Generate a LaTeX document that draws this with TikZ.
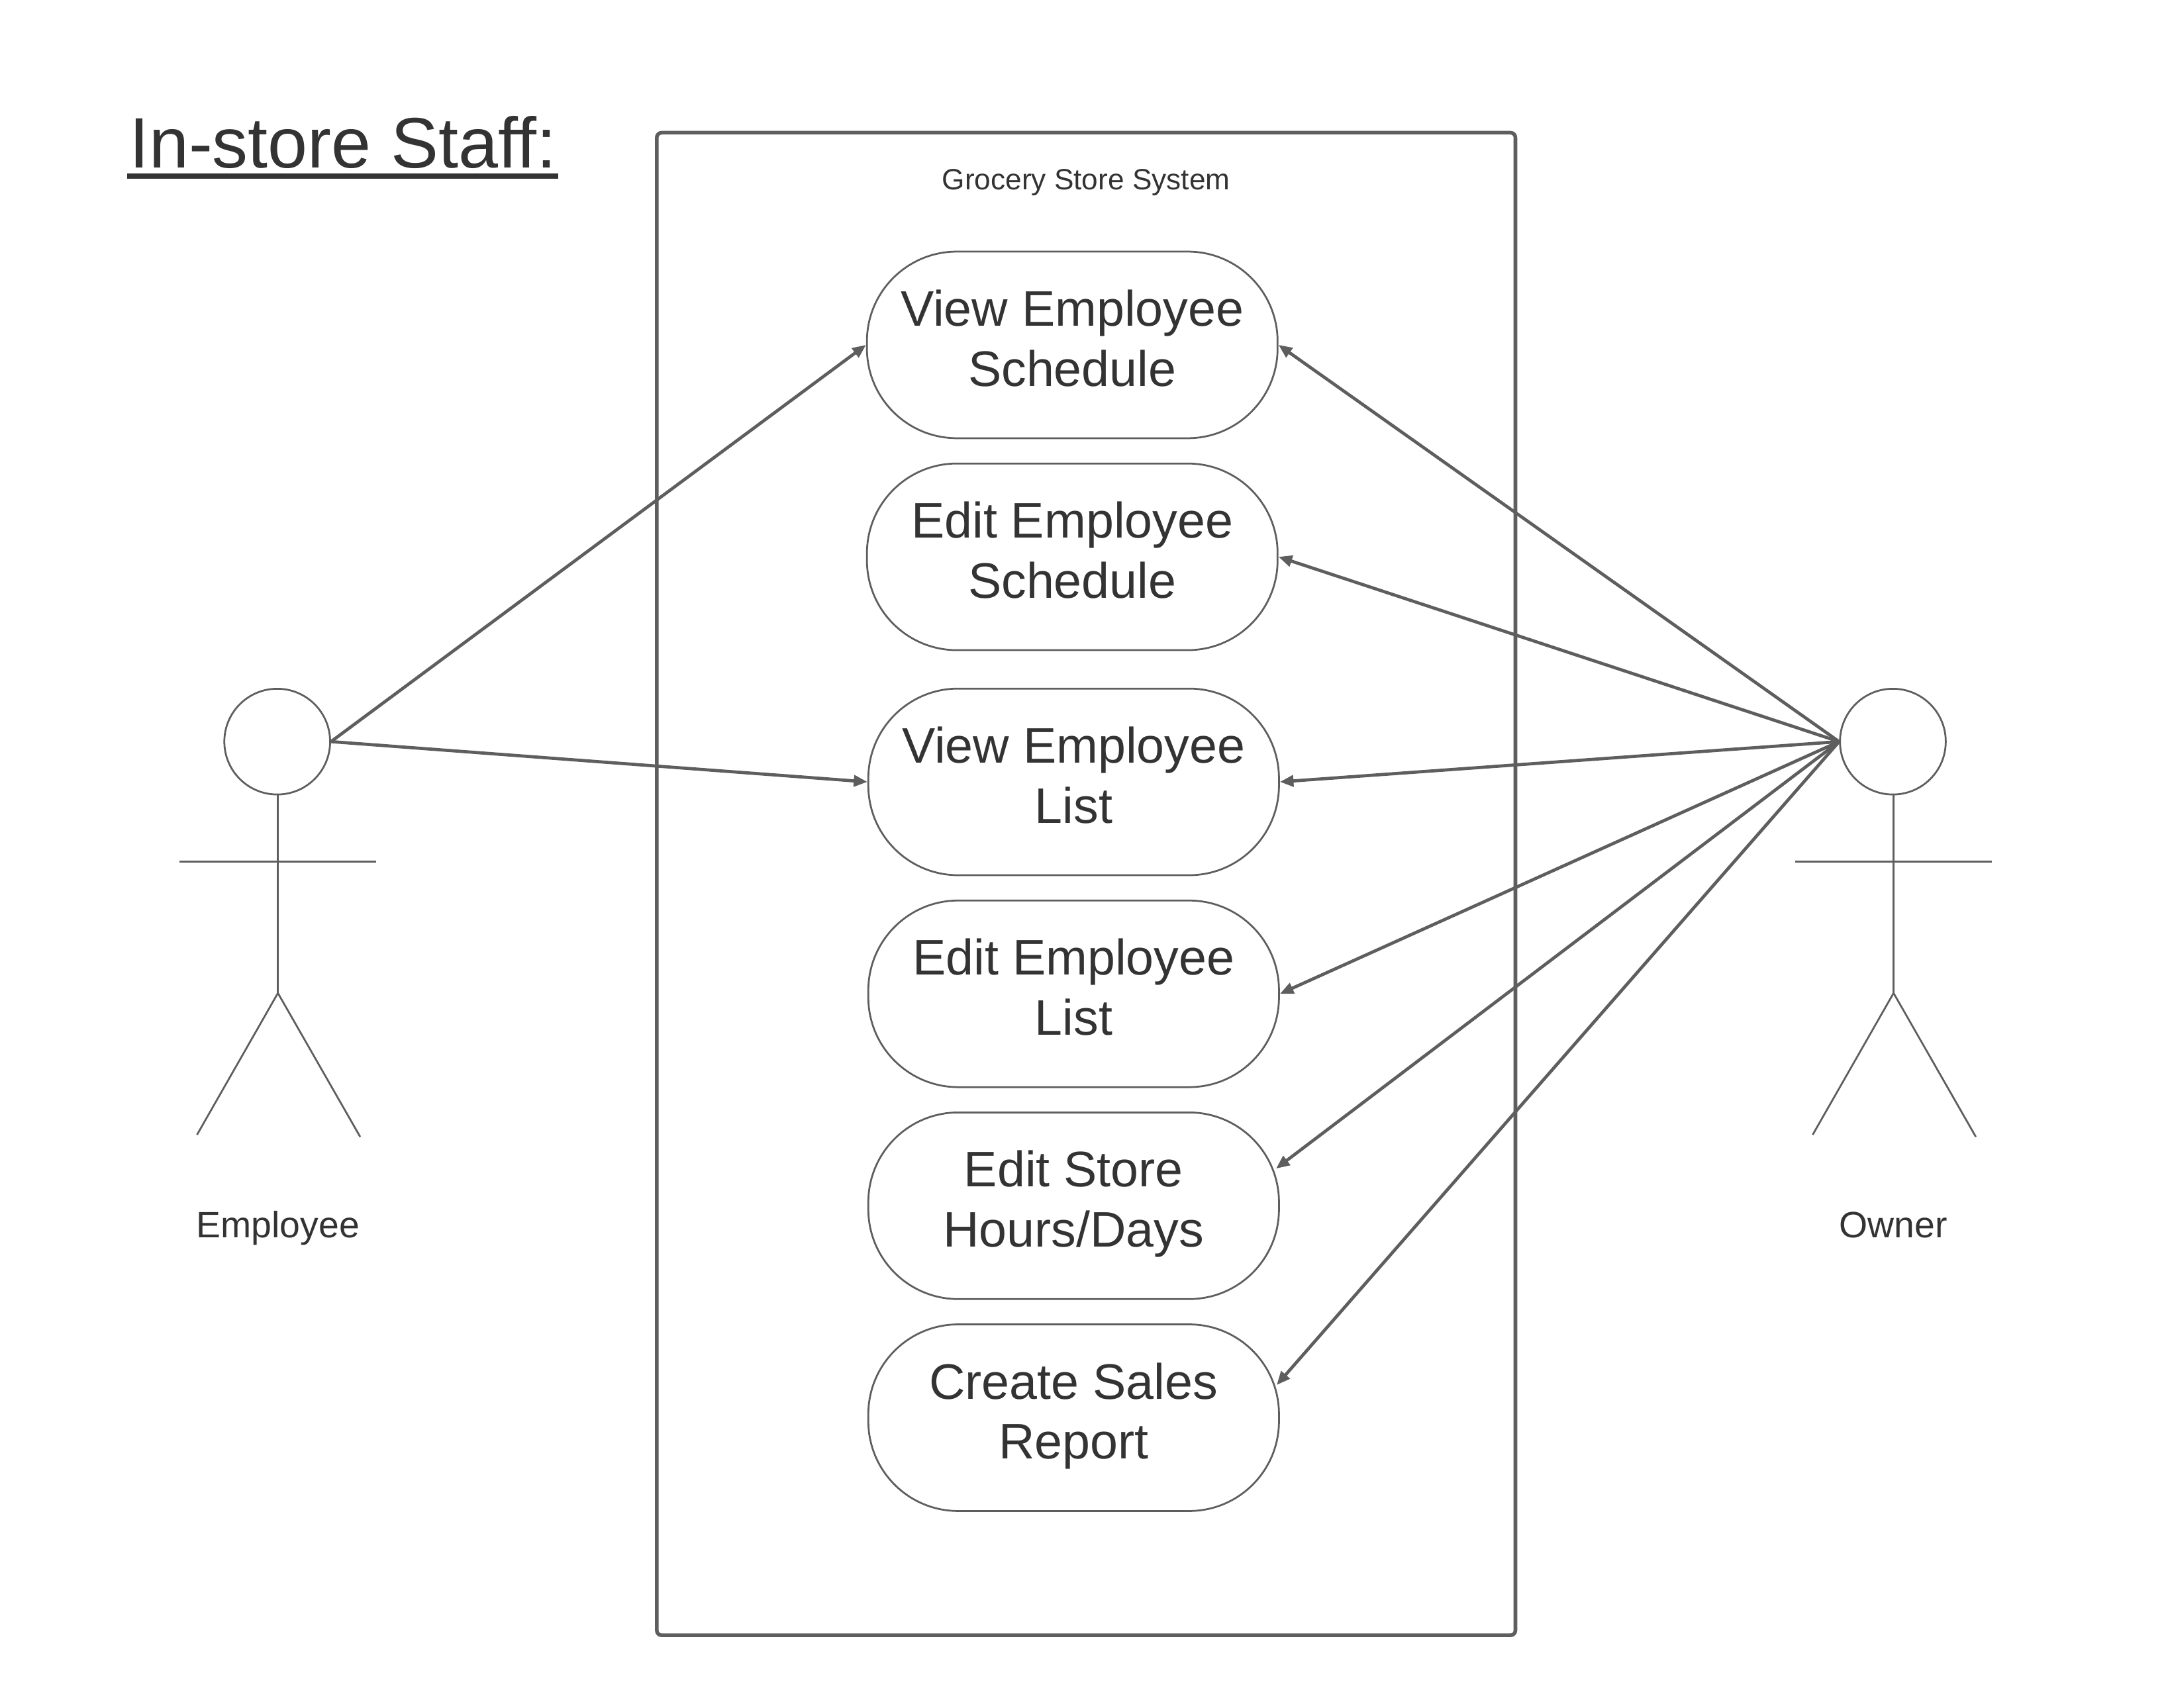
\documentclass[tikz,border=0pt]{standalone}
\usepackage{fontspec}
\setmainfont{Liberation Sans}
\usepackage{xcolor}
\usetikzlibrary{positioning, arrows.meta}
\definecolor{linegray}{HTML}{5E5E5E}
\definecolor{textgray}{HTML}{333333}

\begin{document}
\begin{tikzpicture}[
    >={Triangle[length=5.6pt, width=4.6pt]},
    usecase/.style={rectangle, draw=linegray, line width=0.75pt, rounded corners=1.3cm, minimum width=5.94cm, minimum height=2.7cm, inner sep=0pt, align=center, text=textgray, text height=34pt, text depth=0pt, font=\fontsize{20.55}{24.75}\selectfont},
    systembox/.style={rectangle, draw=linegray, line width=1.5pt, rounded corners=2pt, minimum width=12.42cm, minimum height=21.74cm, inner sep=0pt},
    actorhead/.style={circle, draw=linegray, line width=0.75pt, minimum size=1.53cm, inner sep=0pt},
    actorlimb/.style={draw=linegray, line width=0.75pt},
    actorname/.style={text=textgray, anchor=base, font=\fontsize{15.1}{18}\selectfont},
    assoc/.style={->, draw=linegray, fill=linegray, line width=1.3pt},
    cornertip/.style={shorten >=-2pt},
]
\useasboundingbox (0, 0) rectangle (31.36, -24.712);

% Title
\node[text=textgray, font=\fontsize{29.4}{34}\selectfont, inner sep=0pt] (title) at (4.96, -2.06) {In-store Staff:};
\draw[textgray, line width=2.2pt] ([xshift=-0.02cm, yshift=-3.4pt]title.base west) -- ([xshift=0.02cm, yshift=-3.4pt]title.base east);

% System boundary
\node[systembox] (system) at (15.71, -12.79) {};
\node[text=textgray, font=\fontsize{12.05}{14}\selectfont] (systemname) at (15.71, -2.64) {Grocery Store System};

% Use cases
\node[usecase] (s1) at (15.51, -4.99) {View Employee\\Schedule};
\node[usecase, below=0.34cm of s1] (s2) {Edit Employee\\Schedule};
\node[usecase, below=0.53cm of s2, xshift=0.02cm] (s3) {View Employee\\List};
\node[usecase, below=0.34cm of s3] (s4) {Edit Employee\\List};
\node[usecase, below=0.34cm of s4] (s5) {Edit Store\\Hours/Days};
\node[usecase, below=0.34cm of s5] (s6) {Create Sales\\Report};

% Actors
\node[actorhead] (emp) at (4.01, -10.73) {};
\node[actorhead] (own) at (27.38, -10.73) {};
\node[actorname] (empname) at (4.02, -17.91) {Employee};
\node[actorname] (ownname) at (27.385, -17.91) {Owner};

\foreach \who in {emp, own} {
    \draw[actorlimb] ([xshift=0.01cm]\who.south) -- ++(0, -2.86) coordinate (\who hip);
    \draw[actorlimb] ([shift={(-1.41, -0.96)}]\who.south) -- ([shift={(1.43, -0.96)}]\who.south);
    \draw[actorlimb] (\who hip) -- ++(-1.17, -2.05);
    \draw[actorlimb] (\who hip) -- ++(1.19, -2.08);
}

% Arrows
\foreach \b in {s1, s3} {
    \draw[assoc] (emp.east) -- (\b.west);
}
\foreach \b in {s1, s2, s3, s4} {
    \draw[assoc] (own.west) -- (\b.east);
}
\draw[assoc, cornertip] (own.west) -- (s5.11.6);
\draw[assoc, cornertip] (own.west) -- (s6.10.3);

\end{tikzpicture}
\end{document}
